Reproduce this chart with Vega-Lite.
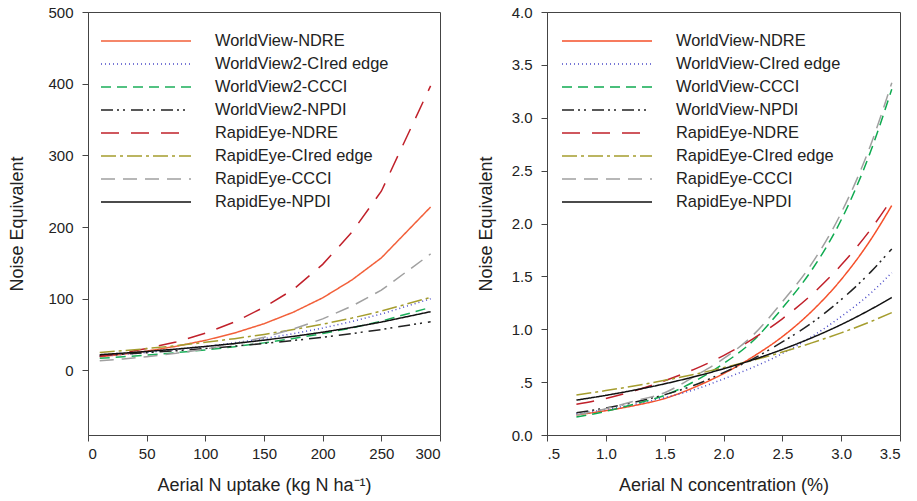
{
  "$schema": "https://vega.github.io/schema/vega-lite/v6.json",
  "padding": {"left": 8, "top": 4, "right": 0, "bottom": 0},
  "background": "white",
  "config": {
    "font": "Liberation Sans",
    "view": {"stroke": "#444", "strokeWidth": 1},
    "axis": {"grid": false, "domainColor": "#444", "tickColor": "#444", "tickSize": 6, "labelFontSize": 15, "titleFontSize": 18, "titleFontWeight": "normal", "labelColor": "#222", "titleColor": "#222", "labelFont": "Liberation Sans", "titleFont": "Liberation Sans"},
    "legend": {"labelFontSize": 16.4, "labelColor": "#222", "labelFont": "Liberation Sans", "labelLimit": 0, "rowPadding": 4, "symbolType": "M-1,0H9", "symbolSize": 324, "symbolStrokeWidth": 1.5, "labelOffset": 95, "title": null, "orient": "none", "padding": 0}
  },
  "spacing": 35,
  "resolve": {"scale": {"color": "independent", "strokeDash": "independent"}, "legend": {"color": "independent", "strokeDash": "independent"}},
  "hconcat": [
    {
      "width": 352,
      "height": 423,
      "data": {"values": [
        {"s": "WorldView-NDRE", "x": 10, "y": 19}, {"s": "WorldView-NDRE", "x": 30, "y": 22.7}, {"s": "WorldView-NDRE", "x": 50, "y": 27}, {"s": "WorldView-NDRE", "x": 75, "y": 33.7}, {"s": "WorldView-NDRE", "x": 100, "y": 42}, {"s": "WorldView-NDRE", "x": 125, "y": 52.3}, {"s": "WorldView-NDRE", "x": 150, "y": 65.2}, {"s": "WorldView-NDRE", "x": 175, "y": 81.3}, {"s": "WorldView-NDRE", "x": 200, "y": 101.3}, {"s": "WorldView-NDRE", "x": 225, "y": 126.3}, {"s": "WorldView-NDRE", "x": 250, "y": 157}, {"s": "WorldView-NDRE", "x": 292, "y": 228},
        {"s": "WorldView2-CIred edge", "x": 10, "y": 20}, {"s": "WorldView2-CIred edge", "x": 30, "y": 22.4}, {"s": "WorldView2-CIred edge", "x": 50, "y": 25.1}, {"s": "WorldView2-CIred edge", "x": 75, "y": 29}, {"s": "WorldView2-CIred edge", "x": 100, "y": 33.4}, {"s": "WorldView2-CIred edge", "x": 125, "y": 38.6}, {"s": "WorldView2-CIred edge", "x": 150, "y": 44.5}, {"s": "WorldView2-CIred edge", "x": 175, "y": 51.3}, {"s": "WorldView2-CIred edge", "x": 200, "y": 59.2}, {"s": "WorldView2-CIred edge", "x": 225, "y": 68.3}, {"s": "WorldView2-CIred edge", "x": 250, "y": 78.7}, {"s": "WorldView2-CIred edge", "x": 292, "y": 100},
        {"s": "WorldView2-CCCI", "x": 10, "y": 17}, {"s": "WorldView2-CCCI", "x": 30, "y": 19.1}, {"s": "WorldView2-CCCI", "x": 50, "y": 21.5}, {"s": "WorldView2-CCCI", "x": 75, "y": 24.8}, {"s": "WorldView2-CCCI", "x": 100, "y": 28.7}, {"s": "WorldView2-CCCI", "x": 125, "y": 33.2}, {"s": "WorldView2-CCCI", "x": 150, "y": 38.5}, {"s": "WorldView2-CCCI", "x": 175, "y": 44.5}, {"s": "WorldView2-CCCI", "x": 200, "y": 51.5}, {"s": "WorldView2-CCCI", "x": 225, "y": 59.5}, {"s": "WorldView2-CCCI", "x": 250, "y": 68.9}, {"s": "WorldView2-CCCI", "x": 292, "y": 88},
        {"s": "WorldView2-NPDI", "x": 10, "y": 21}, {"s": "WorldView2-NPDI", "x": 30, "y": 22.8}, {"s": "WorldView2-NPDI", "x": 50, "y": 24.8}, {"s": "WorldView2-NPDI", "x": 75, "y": 27.5}, {"s": "WorldView2-NPDI", "x": 100, "y": 30.6}, {"s": "WorldView2-NPDI", "x": 125, "y": 33.9}, {"s": "WorldView2-NPDI", "x": 150, "y": 37.7}, {"s": "WorldView2-NPDI", "x": 175, "y": 41.8}, {"s": "WorldView2-NPDI", "x": 200, "y": 46.4}, {"s": "WorldView2-NPDI", "x": 225, "y": 51.5}, {"s": "WorldView2-NPDI", "x": 250, "y": 57.1}, {"s": "WorldView2-NPDI", "x": 292, "y": 68},
        {"s": "RapidEye-NDRE", "x": 10, "y": 20}, {"s": "RapidEye-NDRE", "x": 30, "y": 24.7}, {"s": "RapidEye-NDRE", "x": 50, "y": 30.6}, {"s": "RapidEye-NDRE", "x": 75, "y": 39.8}, {"s": "RapidEye-NDRE", "x": 100, "y": 51.9}, {"s": "RapidEye-NDRE", "x": 125, "y": 67.7}, {"s": "RapidEye-NDRE", "x": 150, "y": 88.2}, {"s": "RapidEye-NDRE", "x": 175, "y": 113}, {"s": "RapidEye-NDRE", "x": 200, "y": 148}, {"s": "RapidEye-NDRE", "x": 225, "y": 193}, {"s": "RapidEye-NDRE", "x": 250, "y": 250}, {"s": "RapidEye-NDRE", "x": 292, "y": 397},
        {"s": "RapidEye-CIred edge", "x": 10, "y": 25}, {"s": "RapidEye-CIred edge", "x": 30, "y": 27.6}, {"s": "RapidEye-CIred edge", "x": 50, "y": 30.5}, {"s": "RapidEye-CIred edge", "x": 75, "y": 34.6}, {"s": "RapidEye-CIred edge", "x": 100, "y": 39.2}, {"s": "RapidEye-CIred edge", "x": 125, "y": 44.4}, {"s": "RapidEye-CIred edge", "x": 150, "y": 50.3}, {"s": "RapidEye-CIred edge", "x": 175, "y": 57}, {"s": "RapidEye-CIred edge", "x": 200, "y": 64.5}, {"s": "RapidEye-CIred edge", "x": 225, "y": 73.1}, {"s": "RapidEye-CIred edge", "x": 250, "y": 82.8}, {"s": "RapidEye-CIred edge", "x": 292, "y": 102},
        {"s": "RapidEye-CCCI", "x": 10, "y": 13.5}, {"s": "RapidEye-CCCI", "x": 30, "y": 16.1}, {"s": "RapidEye-CCCI", "x": 50, "y": 19.2}, {"s": "RapidEye-CCCI", "x": 75, "y": 23.9}, {"s": "RapidEye-CCCI", "x": 100, "y": 29.9}, {"s": "RapidEye-CCCI", "x": 125, "y": 37.2}, {"s": "RapidEye-CCCI", "x": 150, "y": 46.3}, {"s": "RapidEye-CCCI", "x": 175, "y": 57.8}, {"s": "RapidEye-CCCI", "x": 200, "y": 72}, {"s": "RapidEye-CCCI", "x": 225, "y": 89.8}, {"s": "RapidEye-CCCI", "x": 250, "y": 112}, {"s": "RapidEye-CCCI", "x": 292, "y": 162.5},
        {"s": "RapidEye-NPDI", "x": 10, "y": 22}, {"s": "RapidEye-NPDI", "x": 30, "y": 24.2}, {"s": "RapidEye-NPDI", "x": 50, "y": 26.5}, {"s": "RapidEye-NPDI", "x": 75, "y": 29.8}, {"s": "RapidEye-NPDI", "x": 100, "y": 33.5}, {"s": "RapidEye-NPDI", "x": 125, "y": 37.6}, {"s": "RapidEye-NPDI", "x": 150, "y": 42.3}, {"s": "RapidEye-NPDI", "x": 175, "y": 47.5}, {"s": "RapidEye-NPDI", "x": 200, "y": 53.4}, {"s": "RapidEye-NPDI", "x": 225, "y": 60}, {"s": "RapidEye-NPDI", "x": 250, "y": 67.5}, {"s": "RapidEye-NPDI", "x": 292, "y": 82}
      ]},
      "mark": {"type": "line", "strokeWidth": 1.5, "interpolate": "linear"},
      "encoding": {
        "x": {"field": "x", "type": "quantitative", "scale": {"domain": [0, 300], "nice": false, "zero": false}, "axis": {"values": [0, 50, 100, 150, 200, 250, 300], "title": "Aerial N uptake (kg N ha⁻¹)", "labelPadding": 5, "titlePadding": 15}},
        "y": {"field": "y", "type": "quantitative", "scale": {"domain": [-90, 500], "nice": false, "zero": false}, "axis": {"values": [0, 100, 200, 300, 400, 500], "title": "Noise Equivalent", "labelPadding": 9, "titlePadding": 21}},
        "color": {"field": "s", "type": "nominal", "sort": null,
          "scale": {"domain": ["WorldView-NDRE", "WorldView2-CIred edge", "WorldView2-CCCI", "WorldView2-NPDI", "RapidEye-NDRE", "RapidEye-CIred edge", "RapidEye-CCCI", "RapidEye-NPDI"],
                    "range": ["#F2603A", "#4B4BC8", "#1BAF5A", "#222222", "#C0202A", "#A59D2E", "#A0A0A0", "#111111"]},
          "legend": {"legendX": 12, "legendY": 19}},
        "strokeDash": {"field": "s", "type": "nominal", "sort": null,
          "scale": {"domain": ["WorldView-NDRE", "WorldView2-CIred edge", "WorldView2-CCCI", "WorldView2-NPDI", "RapidEye-NDRE", "RapidEye-CIred edge", "RapidEye-CCCI", "RapidEye-NPDI"],
                    "range": [[1, 0], [1, 3], [10, 6], [12, 4, 2, 4, 2, 6], [18, 12], [15, 4, 3, 4], [14, 8], [1, 0]]},
          "legend": {"legendX": 12, "legendY": 19}}
      }
    },
    {
      "width": 353,
      "height": 423,
      "data": {"values": [
        {"s": "WorldView-NDRE", "x": 0.75, "y": 0.19}, {"s": "WorldView-NDRE", "x": 1.0, "y": 0.23}, {"s": "WorldView-NDRE", "x": 1.25, "y": 0.28}, {"s": "WorldView-NDRE", "x": 1.5, "y": 0.345}, {"s": "WorldView-NDRE", "x": 1.75, "y": 0.45}, {"s": "WorldView-NDRE", "x": 2.0, "y": 0.58}, {"s": "WorldView-NDRE", "x": 2.25, "y": 0.74}, {"s": "WorldView-NDRE", "x": 2.5, "y": 0.93}, {"s": "WorldView-NDRE", "x": 2.75, "y": 1.17}, {"s": "WorldView-NDRE", "x": 3.0, "y": 1.47}, {"s": "WorldView-NDRE", "x": 3.25, "y": 1.845}, {"s": "WorldView-NDRE", "x": 3.43, "y": 2.17},
        {"s": "WorldView-CIred edge", "x": 0.75, "y": 0.2}, {"s": "WorldView-CIred edge", "x": 1.0, "y": 0.242}, {"s": "WorldView-CIred edge", "x": 1.25, "y": 0.292}, {"s": "WorldView-CIred edge", "x": 1.5, "y": 0.354}, {"s": "WorldView-CIred edge", "x": 1.75, "y": 0.428}, {"s": "WorldView-CIred edge", "x": 2.0, "y": 0.53}, {"s": "WorldView-CIred edge", "x": 2.25, "y": 0.64}, {"s": "WorldView-CIred edge", "x": 2.5, "y": 0.77}, {"s": "WorldView-CIred edge", "x": 2.75, "y": 0.93}, {"s": "WorldView-CIred edge", "x": 3.0, "y": 1.12}, {"s": "WorldView-CIred edge", "x": 3.25, "y": 1.34}, {"s": "WorldView-CIred edge", "x": 3.43, "y": 1.535},
        {"s": "WorldView-CCCI", "x": 0.75, "y": 0.17}, {"s": "WorldView-CCCI", "x": 1.0, "y": 0.224}, {"s": "WorldView-CCCI", "x": 1.25, "y": 0.295}, {"s": "WorldView-CCCI", "x": 1.5, "y": 0.375}, {"s": "WorldView-CCCI", "x": 1.75, "y": 0.505}, {"s": "WorldView-CCCI", "x": 2.0, "y": 0.675}, {"s": "WorldView-CCCI", "x": 2.25, "y": 0.889}, {"s": "WorldView-CCCI", "x": 2.5, "y": 1.2}, {"s": "WorldView-CCCI", "x": 2.75, "y": 1.56}, {"s": "WorldView-CCCI", "x": 3.0, "y": 2.033}, {"s": "WorldView-CCCI", "x": 3.25, "y": 2.68}, {"s": "WorldView-CCCI", "x": 3.43, "y": 3.27},
        {"s": "WorldView-NPDI", "x": 0.75, "y": 0.21}, {"s": "WorldView-NPDI", "x": 1.0, "y": 0.256}, {"s": "WorldView-NPDI", "x": 1.25, "y": 0.312}, {"s": "WorldView-NPDI", "x": 1.5, "y": 0.381}, {"s": "WorldView-NPDI", "x": 1.75, "y": 0.47}, {"s": "WorldView-NPDI", "x": 2.0, "y": 0.59}, {"s": "WorldView-NPDI", "x": 2.25, "y": 0.72}, {"s": "WorldView-NPDI", "x": 2.5, "y": 0.88}, {"s": "WorldView-NPDI", "x": 2.75, "y": 1.06}, {"s": "WorldView-NPDI", "x": 3.0, "y": 1.28}, {"s": "WorldView-NPDI", "x": 3.25, "y": 1.54}, {"s": "WorldView-NPDI", "x": 3.43, "y": 1.76},
        {"s": "RapidEye-NDRE", "x": 0.75, "y": 0.29}, {"s": "RapidEye-NDRE", "x": 1.0, "y": 0.345}, {"s": "RapidEye-NDRE", "x": 1.25, "y": 0.42}, {"s": "RapidEye-NDRE", "x": 1.5, "y": 0.513}, {"s": "RapidEye-NDRE", "x": 1.75, "y": 0.621}, {"s": "RapidEye-NDRE", "x": 2.0, "y": 0.751}, {"s": "RapidEye-NDRE", "x": 2.25, "y": 0.909}, {"s": "RapidEye-NDRE", "x": 2.5, "y": 1.099}, {"s": "RapidEye-NDRE", "x": 2.75, "y": 1.328}, {"s": "RapidEye-NDRE", "x": 3.0, "y": 1.607}, {"s": "RapidEye-NDRE", "x": 3.25, "y": 1.943}, {"s": "RapidEye-NDRE", "x": 3.43, "y": 2.23},
        {"s": "RapidEye-CIred edge", "x": 0.75, "y": 0.378}, {"s": "RapidEye-CIred edge", "x": 1.0, "y": 0.42}, {"s": "RapidEye-CIred edge", "x": 1.25, "y": 0.466}, {"s": "RapidEye-CIred edge", "x": 1.5, "y": 0.517}, {"s": "RapidEye-CIred edge", "x": 1.75, "y": 0.573}, {"s": "RapidEye-CIred edge", "x": 2.0, "y": 0.637}, {"s": "RapidEye-CIred edge", "x": 2.25, "y": 0.706}, {"s": "RapidEye-CIred edge", "x": 2.5, "y": 0.784}, {"s": "RapidEye-CIred edge", "x": 2.75, "y": 0.871}, {"s": "RapidEye-CIred edge", "x": 3.0, "y": 0.966}, {"s": "RapidEye-CIred edge", "x": 3.25, "y": 1.072}, {"s": "RapidEye-CIred edge", "x": 3.43, "y": 1.157},
        {"s": "RapidEye-CCCI", "x": 0.75, "y": 0.19}, {"s": "RapidEye-CCCI", "x": 1.0, "y": 0.248}, {"s": "RapidEye-CCCI", "x": 1.25, "y": 0.324}, {"s": "RapidEye-CCCI", "x": 1.5, "y": 0.4}, {"s": "RapidEye-CCCI", "x": 1.75, "y": 0.553}, {"s": "RapidEye-CCCI", "x": 2.0, "y": 0.722}, {"s": "RapidEye-CCCI", "x": 2.25, "y": 0.943}, {"s": "RapidEye-CCCI", "x": 2.5, "y": 1.26}, {"s": "RapidEye-CCCI", "x": 2.75, "y": 1.62}, {"s": "RapidEye-CCCI", "x": 3.0, "y": 2.1}, {"s": "RapidEye-CCCI", "x": 3.25, "y": 2.74}, {"s": "RapidEye-CCCI", "x": 3.43, "y": 3.33},
        {"s": "RapidEye-NPDI", "x": 0.75, "y": 0.33}, {"s": "RapidEye-NPDI", "x": 1.0, "y": 0.375}, {"s": "RapidEye-NPDI", "x": 1.25, "y": 0.426}, {"s": "RapidEye-NPDI", "x": 1.5, "y": 0.484}, {"s": "RapidEye-NPDI", "x": 1.75, "y": 0.551}, {"s": "RapidEye-NPDI", "x": 2.0, "y": 0.626}, {"s": "RapidEye-NPDI", "x": 2.25, "y": 0.711}, {"s": "RapidEye-NPDI", "x": 2.5, "y": 0.809}, {"s": "RapidEye-NPDI", "x": 2.75, "y": 0.919}, {"s": "RapidEye-NPDI", "x": 3.0, "y": 1.044}, {"s": "RapidEye-NPDI", "x": 3.25, "y": 1.187}, {"s": "RapidEye-NPDI", "x": 3.43, "y": 1.3}
      ]},
      "mark": {"type": "line", "strokeWidth": 1.5, "interpolate": "monotone"},
      "encoding": {
        "x": {"field": "x", "type": "quantitative", "scale": {"domain": [0.5, 3.5], "nice": false, "zero": false}, "axis": {"values": [0.5, 1, 1.5, 2, 2.5, 3, 3.5], "labelExpr": "datum.value == 0.5 ? '.5' : format(datum.value, '.1f')", "title": "Aerial N concentration (%)", "labelPadding": 5, "titlePadding": 15}},
        "y": {"field": "y", "type": "quantitative", "scale": {"domain": [0, 4], "nice": false, "zero": false}, "axis": {"values": [0, 0.5, 1, 1.5, 2, 2.5, 3, 3.5, 4], "labelExpr": "datum.value == 0.5 ? '.5' : format(datum.value, '.1f')", "title": "Noise Equivalent", "labelPadding": 9, "titlePadding": 16}},
        "color": {"field": "s", "type": "nominal", "sort": null,
          "scale": {"domain": ["WorldView-NDRE", "WorldView-CIred edge", "WorldView-CCCI", "WorldView-NPDI", "RapidEye-NDRE", "RapidEye-CIred edge", "RapidEye-CCCI", "RapidEye-NPDI"],
                    "range": ["#F5502A", "#4B4BC8", "#0FAA50", "#222222", "#C0202A", "#A59D2E", "#A0A0A0", "#111111"]},
          "legend": {"legendX": 14, "legendY": 19}},
        "strokeDash": {"field": "s", "type": "nominal", "sort": null,
          "scale": {"domain": ["WorldView-NDRE", "WorldView-CIred edge", "WorldView-CCCI", "WorldView-NPDI", "RapidEye-NDRE", "RapidEye-CIred edge", "RapidEye-CCCI", "RapidEye-NPDI"],
                    "range": [[1, 0], [1, 3], [10, 6], [12, 4, 2, 4, 2, 6], [18, 12], [15, 4, 3, 4], [14, 8], [1, 0]]},
          "legend": {"legendX": 14, "legendY": 19}}
      }
    }
  ]
}
